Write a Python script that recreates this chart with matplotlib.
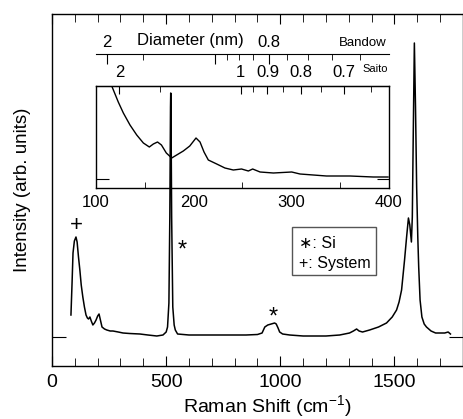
import matplotlib
matplotlib.use('Agg')
import matplotlib.pyplot as plt
import numpy as np
from matplotlib.ticker import FixedLocator, FuncFormatter
from matplotlib.patches import Rectangle

plt.rcParams['font.family'] = ['Liberation Sans', 'DejaVu Sans']
plt.rcParams['mathtext.default'] = 'regular'

# ---- main spectrum (Raman shift cm^-1, intensity arb.) ----
raman_shift = [83, 88, 92, 98, 105, 110, 116, 122, 128, 135, 142, 149, 155, 160, 166, 172,
               179, 186, 193, 200, 206, 212, 219, 230, 240, 255, 267, 290, 311, 340, 385,
               420, 459, 486, 500, 506, 512, 516, 519, 520, 521, 524, 529, 535, 540, 550,
               600, 650, 700, 750, 800, 850, 900, 920, 932, 945, 960, 975, 982, 990, 997,
               1010, 1041, 1100, 1150, 1200, 1260, 1303, 1320, 1334, 1345, 1360, 1391,
               1430, 1465, 1490, 1509, 1520, 1531, 1544, 1553, 1561, 1567, 1574, 1578,
               1582, 1587, 1592, 1597, 1602, 1606, 1612, 1620, 1630, 1640, 1660, 1680,
               1700, 1720, 1735, 1745]
intensity = [22, 55, 84, 96, 100, 95, 80, 67, 52, 40, 30, 22, 19, 18, 20, 16,
             12, 14, 17, 21, 23, 17, 10, 8, 7, 6, 6, 5, 4, 3.5, 3,
             2, 1, 2, 5, 10, 34, 120, 230, 244, 230, 120, 30, 12, 7, 3,
             2, 2, 2, 2, 2, 2, 2.5, 4, 10, 12, 13, 14, 13, 9, 5,
             3, 2, 1, 1, 1, 2, 4, 6, 8, 6, 5, 7,
             10, 14, 20, 27, 35, 47, 77, 100, 119, 112, 95, 120,
             200, 294, 230, 150, 100, 70, 37, 20, 13, 10, 6, 4,
             4, 4, 5, 3]

# ---- inset: RBM region ----
inset_shift = [116, 122.8, 128, 134.8, 141.7, 148.5, 154.6, 158.7, 163, 167, 172, 177.5,
               182.6, 189.4, 196, 202.4, 206.5, 210.6, 215, 223.6, 232, 240.6, 249, 256,
               260.4, 268, 281.6, 300.4, 308.9, 336, 360, 383.9, 399]
inset_intensity = [93.3, 77, 66, 54, 44, 36, 32, 35, 37, 34, 26, 21,
                   24, 28, 33, 41, 37, 27, 19, 15, 11, 9, 10, 8,
                   10, 7, 6, 7, 5, 3, 3, 2, 2]

main_xticks = [0, 500, 1000, 1500]
inset_xticks = [100, 200, 300, 400]
saito_major = [2, 1, 0.9, 0.8, 0.7]
saito_minor = [1.5, 0.95, 0.85, 0.75, 0.65]
bandow_major = [2, 1, 0.8]
bandow_minor = [1.5, 0.95, 0.9, 0.85, 0.75, 0.7, 0.65, 0.6]


def _recip(c):
    def f(v):
        v = np.asarray(v, dtype=float)
        out = np.full_like(v, 1e9)
        np.divide(c, v, out=out, where=np.abs(v) > 1e-9)
        return out
    return f


saito = _recip(248.0)
bandow = _recip(222.0)

W, H = 464, 419
fig = plt.figure(figsize=(W / 100, H / 100), dpi=100)

# main axes
ax = fig.add_axes([52 / W, (H - 366) / H, 411 / W, 352 / H])
ax.plot(raman_shift, intensity, color='black', lw=1.1)
ax.set_xlim(0, 1800)
ax.set_ylim(-29, 323)
ax.set_xticks(main_xticks)
ax.xaxis.set_minor_locator(FixedLocator(list(range(100, 1800, 100))))
ax.tick_params(axis='x', which='both', direction='in', top=True, labelsize=14, pad=6)
ax.tick_params(axis='x', which='major', length=7)
ax.tick_params(axis='x', which='minor', length=6)
ax.set_yticks([0])
ax.set_yticklabels([])
ax.tick_params(axis='y', direction='in', right=True, length=10)
for s in ax.spines.values():
    s.set_linewidth(1.0)
ax.set_xlabel('Raman Shift (cm$^{-1}$)', fontsize=14)
ax.xaxis.set_label_coords((267 - 52) / 411, (366 - 412) / 352)
ax.xaxis.label.set_va('baseline')
ax.set_ylabel('Intensity (arb. units)', fontsize=13.5)
ax.yaxis.set_label_coords(-0.052, 0.5)

# annotations
ax.text(108, 112, '+', fontsize=16, ha='center', va='center')
ax.text(569, 86, '*', fontsize=17, ha='center', va='center')
ax.text(967, 19, '*', fontsize=17, ha='center', va='center')

# key box
x0 = (292 - 52) / 411
x1 = (376 - 52) / 411
y0 = (366 - 275) / 352
y1 = (366 - 227) / 352
ax.add_patch(Rectangle((x0, y0), x1 - x0, y1 - y0, transform=ax.transAxes,
                       fill=False, edgecolor='#555555', lw=1.0))
ax.text((299 - 52) / 411, (366 - 243) / 352, '\u2217: Si', fontsize=11.5,
        ha='left', va='center', transform=ax.transAxes)
ax.text((299 - 52) / 411, (366 - 263) / 352, '+: System', fontsize=11.5,
        ha='left', va='center', transform=ax.transAxes)

# inset
axin = fig.add_axes([96 / W, (H - 188) / H, 293 / W, 102 / H])
axin.set_facecolor('none')
axin.plot(inset_shift, inset_intensity, color='black', lw=1.0)
axin.set_xlim(100, 400)
axin.set_ylim(-9, 93)
axin.set_xticks(inset_xticks)
axin.xaxis.set_minor_locator(FixedLocator([150, 250, 350]))
axin.tick_params(axis='x', which='major', length=0, pad=5, labelsize=12, top=False)
axin.tick_params(axis='x', which='minor', direction='in', length=4, top=False)
axin.set_yticks([0])
axin.set_yticklabels([])
axin.tick_params(axis='y', direction='in', right=True, length=9)
for s in axin.spines.values():
    s.set_linewidth(1.0)

sec1 = axin.secondary_xaxis('top', functions=(saito, saito))
sec1.xaxis.set_major_locator(FixedLocator(saito_major))
sec1.xaxis.set_minor_locator(FixedLocator(saito_minor))
sec1.xaxis.set_major_formatter(FuncFormatter(lambda v, p: f'{v:g}'))
sec1.tick_params(which='both', direction='in', labelsize=12, pad=4)
sec1.tick_params(which='major', length=6)
sec1.tick_params(which='minor', length=4)

sec2 = axin.secondary_xaxis(1 + 32 / 102, functions=(bandow, bandow))
sec2.xaxis.set_major_locator(FixedLocator(bandow_major))
sec2.xaxis.set_minor_locator(FixedLocator(bandow_minor))
sec2.xaxis.set_major_formatter(FuncFormatter(lambda v, p: '' if abs(v - 1) < 1e-6 else f'{v:g}'))
sec2.tick_params(which='both', direction='in', labelsize=12, pad=3)
sec2.tick_params(which='major', length=7)
sec2.tick_params(which='minor', length=4)

axin.text((190 - 96) / 293, (188 - 45) / 102, 'Diameter (nm)', fontsize=12,
          ha='center', va='baseline', transform=axin.transAxes)
axin.text((387 - 96) / 293, (188 - 46) / 102, 'Bandow', fontsize=9.5,
          ha='right', va='baseline', transform=axin.transAxes)
axin.text((362 - 96) / 293, (188 - 64) / 102, 'Saito', fontsize=8,
          ha='left', va='top', transform=axin.transAxes)

fig.savefig('out.png', dpi=100)
